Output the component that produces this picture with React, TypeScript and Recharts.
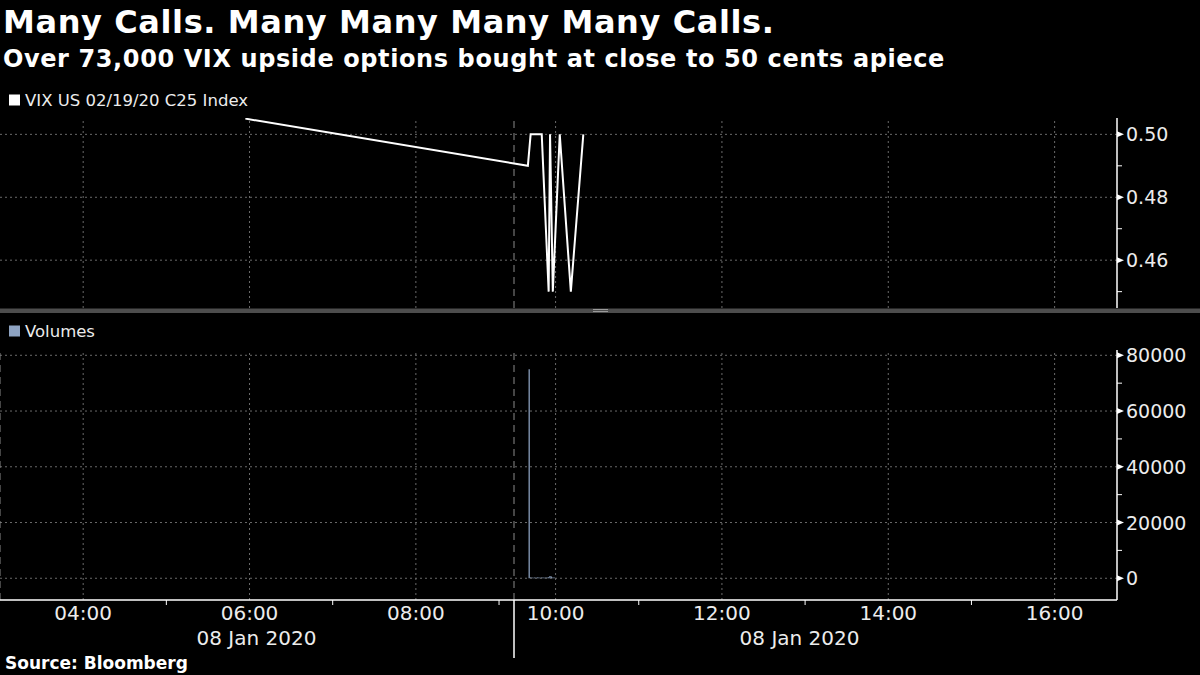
import React from "react";
import {
  LineChart,
  Line,
  XAxis,
  YAxis,
  ReferenceLine,
  ComposedChart,
  Bar,
} from "recharts";

// ---------- text ----------
const TITLE = "Many Calls. Many Many Many Many Calls.";
const SUBTITLE = "Over 73,000 VIX upside options bought at close to 50 cents apiece";
const SOURCE = "Source: Bloomberg";
const PRICE_LABEL = "VIX US 02/19/20 C25 Index";
const VOLUME_LABEL = "Volumes";

// ---------- data ----------
const priceTimes = ["05:57", "09:40", "09:42", "09:50", "09:55", "09:56", "09:58", "10:03", "10:11", "10:20"];
const priceValues = [0.505, 0.49, 0.5, 0.5, 0.45, 0.5, 0.45, 0.5, 0.45, 0.5];

const volumeTimes = [
  "09:41", "09:42", "09:43", "09:44", "09:45", "09:46", "09:47", "09:48", "09:49", "09:50",
  "09:51", "09:52", "09:53", "09:54", "09:55", "09:56", "09:57", "09:58", "09:59",
];
const volumeValues = [
  75000, 300, 250, 200, 250, 200, 300, 250, 200, 300,
  250, 200, 250, 300, 350, 800, 600, 300, 250,
];

const majorTimeTicks = ["04:00", "06:00", "08:00", "10:00", "12:00", "14:00", "16:00"];
const minorTimeTicks = ["05:00", "07:00", "09:00", "11:00", "13:00", "15:00"];
const dateLabels = ["08 Jan 2020", "08 Jan 2020"];
const dateLabelTimes = ["06:05", "12:56"];
const sessionBreakTime = "09:30";
const chartStartTime = "03:00";
const chartEndTime = "16:45";

const priceTicks = [0.46, 0.48, 0.5];
const priceMinorTicks = [0.45, 0.47, 0.49];
const priceDomain: [number, number] = [0.4448, 0.5052];

const volumeTicks = [0, 20000, 40000, 60000, 80000];
const volumeMinorTicks = [10000, 30000, 50000, 70000];
const volumeDomain: [number, number] = [-7800, 81900];

// pre-session hours are drawn compressed against the session (Bloomberg gap)
const PRE_SESSION_SHIFT = 0.32;
const SESSION_START = 9.5;

function toPos(t: string): number {
  const [h, m] = t.split(":").map(Number);
  const v = h + m / 60;
  return v < SESSION_START ? v + PRE_SESSION_SHIFT : v;
}

const xDomain: [number, number] = [toPos(chartStartTime), toPos(chartEndTime)];

const priceData = priceTimes.map((t, i) => ({ pos: toPos(t), value: priceValues[i] }));
const volumeData = volumeTimes.map((t, i) => ({ pos: toPos(t), volume: volumeValues[i] }));

const majorPos = majorTimeTicks.map(toPos);
const minorPos = minorTimeTicks.map(toPos);
const datePos = dateLabelTimes.map(toPos);
const breakPos = toPos(sessionBreakTime);
const xTicks = [...majorPos, ...minorPos, ...datePos, breakPos].sort((a, b) => a - b);

const FONT = "'DejaVu Sans', 'Liberation Sans', sans-serif";
const GRID = "#6a6a6a";
const VOL_COLOR = "#8ea3c2";

const near = (a: number, b: number) => Math.abs(a - b) < 1e-6;
const inList = (v: number, list: number[]) => list.some((x) => near(x, v));

function RightTick(props: any) {
  const { x, y, payload, minor, fmt } = props;
  const v = payload.value;
  if (inList(v, minor)) {
    return <line x1={x} x2={x + 5} y1={y} y2={y} stroke="#fff" strokeWidth={1} />;
  }
  return (
    <g>
      <polygon points={`${x},${y - 3} ${x + 7},${y} ${x},${y + 3}`} fill="#fff" />
      <text
        x={x + 9}
        y={y}
        dy={7}
        fill="#ececec"
        fontSize={19}
        fontFamily={FONT}
        textAnchor="start"
      >
        {fmt(v)}
      </text>
    </g>
  );
}

function TimeTick(props: any) {
  const { x, y, payload } = props;
  const v = payload.value;
  const mi = majorPos.findIndex((p) => near(p, v));
  if (mi >= 0) {
    return (
      <text x={x} y={y} dy={20} fill="#ececec" fontSize={20} fontFamily={FONT} textAnchor="middle">
        {majorTimeTicks[mi]}
      </text>
    );
  }
  if (inList(v, minorPos)) {
    return <line x1={x} x2={x} y1={y} y2={y + 5} stroke="#fff" strokeWidth={1} />;
  }
  const di = datePos.findIndex((p) => near(p, v));
  if (di >= 0) {
    return (
      <text x={x} y={y} dy={45} fill="#ececec" fontSize={20} fontFamily={FONT} textAnchor="middle">
        {dateLabels[di]}
      </text>
    );
  }
  if (near(v, breakPos)) {
    return <line x1={x} x2={x} y1={y} y2={y + 58} stroke="#fff" strokeWidth={1.5} />;
  }
  return <g />;
}

export default function App() {
  return (
    <div
      style={{
        position: "relative",
        width: 1200,
        height: 675,
        background: "#000",
        overflow: "hidden",
        fontFamily: FONT,
      }}
    >
      <style>{`body{margin:0;background:#000;}`}</style>
      <svg
        width={1200}
        height={675}
        style={{ position: "absolute", left: 0, top: 0 }}
      >
        <text x={3} y={33} fill="#fff" fontSize={32} fontWeight="bold" fontFamily={FONT} letterSpacing={0.6}>
          {TITLE}
        </text>
        <text x={3} y={67} fill="#fff" fontSize={24} fontWeight="bold" fontFamily={FONT} letterSpacing={0.6}>
          {SUBTITLE}
        </text>
        <rect x={9} y={94.5} width={11} height={11} fill="#fff" />
        <text x={25} y={106} fill="#ececec" fontSize={16.5} fontFamily={FONT}>
          {PRICE_LABEL}
        </text>
        <rect x={0} y={308.5} width={1200} height={4.5} fill="#4d4d4d" />
        <rect x={593} y={309} width={15} height={1} fill="#9a9a9a" />
        <rect x={593} y={311} width={15} height={1} fill="#9a9a9a" />
        <rect x={9} y={325.5} width={11} height={11} fill={VOL_COLOR} />
        <text x={25} y={337} fill="#ececec" fontSize={16.5} fontFamily={FONT}>
          {VOLUME_LABEL}
        </text>
        <text x={5} y={669} fill="#fff" fontSize={17} fontWeight="bold" fontFamily={FONT}>
          {SOURCE}
        </text>
      </svg>

      <div style={{ position: "absolute", left: 0, top: 118 }}>
        <LineChart width={1200} height={190} data={priceData} margin={{ top: 0, right: 0, bottom: 0, left: 0 }}>
          <XAxis dataKey="pos" type="number" domain={xDomain} allowDataOverflow hide />
          <YAxis
            orientation="right"
            width={83}
            type="number"
            domain={priceDomain}
            allowDataOverflow
            ticks={[...priceMinorTicks, ...priceTicks].sort((a, b) => a - b)}
            interval={0}
            tickLine={false}
            tickSize={0}
            tickMargin={0}
            axisLine={{ stroke: "#fff", strokeWidth: 1.5 }}
            tick={(p: any) => <RightTick {...p} minor={priceMinorTicks} fmt={(v: number) => v.toFixed(2)} />}
          />
          {priceTicks.map((v) => (
            <ReferenceLine key={"py" + v} y={v} stroke={GRID} strokeDasharray="2 3" />
          ))}
          {majorPos.map((p) => (
            <ReferenceLine key={"px" + p} x={p} stroke={GRID} strokeDasharray="2 3" />
          ))}
          <ReferenceLine x={breakPos} stroke="#8a8a8a" strokeDasharray="7 5" />
          <Line
            type="linear"
            dataKey="value"
            stroke="#fff"
            strokeWidth={2}
            dot={false}
            isAnimationActive={false}
          />
        </LineChart>
      </div>

      <div style={{ position: "absolute", left: 0, top: 330 }}>
        <ComposedChart width={1200} height={335} data={volumeData} margin={{ top: 20, right: 0, bottom: 0, left: 0 }}>
          <XAxis
            dataKey="pos"
            type="number"
            domain={xDomain}
            allowDataOverflow
            ticks={xTicks}
            interval={0}
            height={65}
            tickLine={false}
            tickSize={0}
            tickMargin={0}
            axisLine={{ stroke: "#fff", strokeWidth: 1.5 }}
            tick={(p: any) => <TimeTick {...p} />}
          />
          <YAxis
            orientation="right"
            width={83}
            type="number"
            domain={volumeDomain}
            allowDataOverflow
            ticks={[...volumeMinorTicks, ...volumeTicks].sort((a, b) => a - b)}
            interval={0}
            tickLine={false}
            tickSize={0}
            tickMargin={0}
            axisLine={{ stroke: "#fff", strokeWidth: 1.5 }}
            tick={(p: any) => <RightTick {...p} minor={volumeMinorTicks} fmt={(v: number) => String(v)} />}
          />
          {volumeTicks.map((v) => (
            <ReferenceLine key={"vy" + v} y={v} stroke={GRID} strokeDasharray="2 3" />
          ))}
          {majorPos.map((p) => (
            <ReferenceLine key={"vx" + p} x={p} stroke={GRID} strokeDasharray="2 3" />
          ))}
          <ReferenceLine x={xDomain[0]} stroke="#8a8a8a" strokeDasharray="7 5" />
          <ReferenceLine x={breakPos} stroke="#8a8a8a" strokeDasharray="7 5" />
          <Bar dataKey="volume" fill={VOL_COLOR} barSize={2} isAnimationActive={false} />
        </ComposedChart>
      </div>
    </div>
  );
}
